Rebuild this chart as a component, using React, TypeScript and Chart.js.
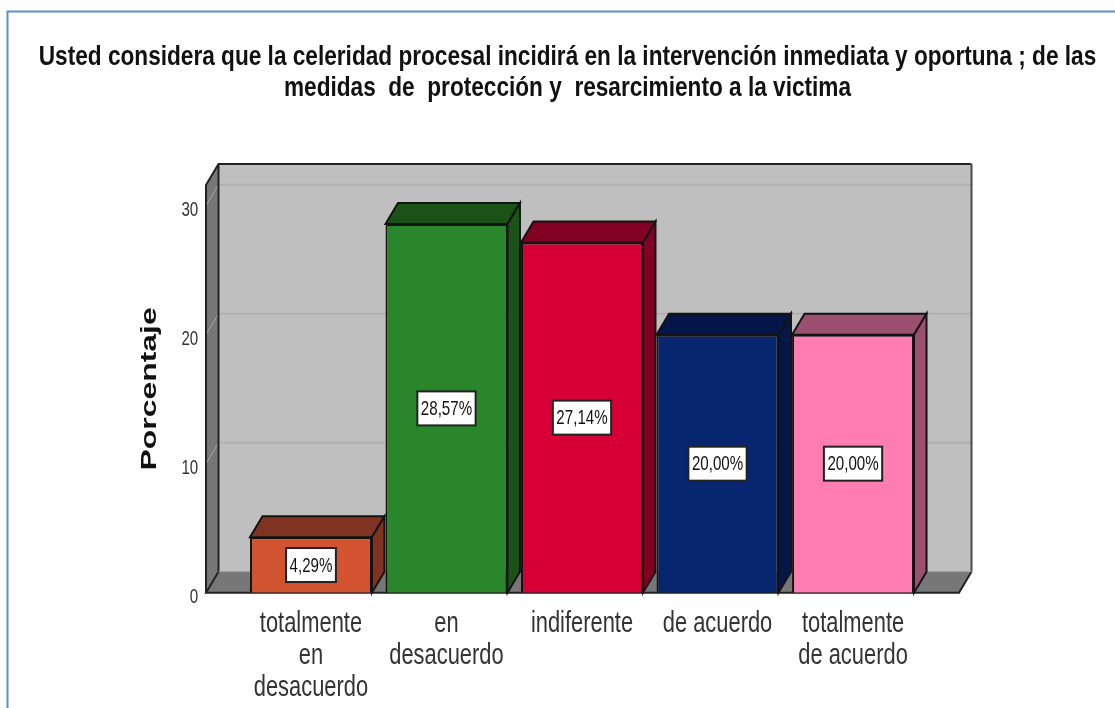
import React, { useEffect, useRef } from "react";
import { Chart, registerables } from "chart.js";

Chart.register(...registerables);

const categories = [
  ["totalmente", "en", "desacuerdo"],
  ["en", "desacuerdo"],
  "indiferente",
  "de acuerdo",
  ["totalmente", "de acuerdo"],
];
const percentages = [4.29, 28.57, 27.14, 20.0, 20.0];
const valueLabels = ["4,29%", "28,57%", "27,14%", "20,00%", "20,00%"];
const frontColors = ["#D1532F", "#29862B", "#D60036", "#082570", "#FF7DB0"];
const shadeColors = ["#7F3320", "#1A5218", "#820021", "#05174A", "#9B5070"];
const titleLines = [
  "Usted considera que la celeridad procesal incidirá en la intervención inmediata y oportuna ; de las",
  "medidas  de  protección y  resarcimiento a la victima",
];
const yTitle = "Porcentaje";
const yTicksMax = 31.6;

const SANS = '"Liberation Sans", sans-serif';
const DX = 12.5;
const DY = 21;
const WALL_OUT_LEFT = 37.2;
const WALL_OUT_RIGHT = 38.2;
// horizontal squeeze or stretch of the source picture's text, by font pixel size
const STRETCH: Record<string, number> = { "27": 0.838, "29": 0.755, "21": 0.72, "22": 1.45 };

function installStretch(ctx: any) {
  if (ctx.__stretched) return;
  ctx.__stretched = true;
  const orig = ctx.fillText.bind(ctx);
  ctx.fillText = (text: string, x: number, y: number) => {
    const m = /(\d+(?:\.\d+)?)px/.exec(ctx.font);
    const sx = (m && STRETCH[m[1]]) || 1;
    ctx.save();
    ctx.translate(x, y);
    ctx.scale(sx, 1);
    orig(text, 0, 0);
    ctx.restore();
  };
}

function poly(ctx: CanvasRenderingContext2D, pts: number[][], fill: string, stroke: string, lw = 2) {
  ctx.beginPath();
  pts.forEach((p, i) => (i ? ctx.lineTo(p[0], p[1]) : ctx.moveTo(p[0], p[1])));
  ctx.closePath();
  ctx.fillStyle = fill;
  ctx.fill();
  if (stroke) {
    ctx.strokeStyle = stroke;
    ctx.lineWidth = lw;
    ctx.stroke();
  }
}

const scene3d = {
  id: "scene3d",
  beforeDraw(chart: any) {
    const { ctx, chartArea: a, scales } = chart;
    installStretch(ctx);
    const y = scales.y;
    const l = a.left - WALL_OUT_LEFT;
    const r = a.right + WALL_OUT_RIGHT;
    const t = a.top;
    const b = a.bottom;
    ctx.save();
    // page frame
    ctx.strokeStyle = "#5F8FCB";
    ctx.lineWidth = 2;
    ctx.beginPath();
    ctx.moveTo(7.5, 708);
    ctx.lineTo(7.5, 11.5);
    ctx.lineTo(1115, 11.5);
    ctx.stroke();
    // back wall
    poly(ctx, [[l + DX, t - DY], [r + DX, t - DY], [r + DX, b - DY], [l + DX, b - DY]], "#BFBFBF", "");
    // back gridlines
    [10, 20, 30].forEach((v) => {
      const py = y.getPixelForValue(v) - DY;
      ctx.strokeStyle = "#B0B0B0";
      ctx.lineWidth = 2;
      ctx.beginPath();
      ctx.moveTo(l + DX, py);
      ctx.lineTo(r + DX, py);
      ctx.stroke();
    });
    // left wall and floor
    poly(ctx, [[l, t], [l + DX, t - DY], [l + DX, b - DY], [l, b]], "#777777", "");
    poly(ctx, [[l, b], [r, b], [r + DX, b - DY], [l + DX, b - DY]], "#777777", "");
    // side wall grid diagonals
    [10, 20, 30].forEach((v) => {
      const py = y.getPixelForValue(v);
      ctx.strokeStyle = "#A8A8A8";
      ctx.lineWidth = 1;
      ctx.beginPath();
      ctx.moveTo(l, py);
      ctx.lineTo(l + DX, py - DY);
      ctx.stroke();
    });
    // outlines
    ctx.strokeStyle = "#222222";
    ctx.lineWidth = 2;
    ctx.beginPath();
    ctx.moveTo(l, b);
    ctx.lineTo(l, t);
    ctx.lineTo(l + DX, t - DY);
    ctx.lineTo(r + DX, t - DY);
    ctx.moveTo(l + DX, t - DY);
    ctx.lineTo(l + DX, b - DY);
    ctx.lineTo(l, b);
    ctx.lineTo(r, b);
    ctx.lineTo(r + DX, b - DY);
    ctx.stroke();
    ctx.strokeStyle = "#4A4A4A";
    ctx.beginPath();
    ctx.moveTo(r + DX, t - DY);
    ctx.lineTo(r + DX, b - DY);
    ctx.stroke();
    ctx.strokeStyle = "#9A9A9A";
    ctx.lineWidth = 1;
    ctx.beginPath();
    ctx.moveTo(l + DX, b - DY);
    ctx.lineTo(r + DX, b - DY);
    ctx.stroke();
    ctx.restore();
  },
  beforeDatasetsDraw(chart: any) {
    const { ctx } = chart;
    const bars = chart.getDatasetMeta(0).data;
    ctx.save();
    bars.forEach((bar: any, i: number) => {
      const half = bar.width / 2;
      const x0 = bar.x - half;
      const x1 = bar.x + half;
      const top = bar.y;
      const base = bar.base;
      poly(ctx, [[x0, top], [x1, top], [x1 + DX, top - DY], [x0 + DX, top - DY]], shadeColors[i], "#141414");
      poly(ctx, [[x1, top], [x1 + DX, top - DY], [x1 + DX, base - DY], [x1, base]], shadeColors[i], "#141414");
    });
    ctx.restore();
  },
  afterDatasetsDraw(chart: any) {
    const { ctx } = chart;
    const bars = chart.getDatasetMeta(0).data;
    ctx.save();
    ctx.font = `21px ${SANS}`;
    ctx.textAlign = "center";
    ctx.textBaseline = "middle";
    bars.forEach((bar: any, i: number) => {
      const text = valueLabels[i];
      const w = ctx.measureText(text).width * STRETCH["21"] + 7;
      const h = 34;
      const cy = (bar.y + bar.base) / 2;
      ctx.fillStyle = "#FFFFFF";
      ctx.strokeStyle = "#222222";
      ctx.lineWidth = 2;
      ctx.fillRect(bar.x - w / 2, cy - h / 2, w, h);
      ctx.strokeRect(bar.x - w / 2, cy - h / 2, w, h);
      ctx.fillStyle = "#111111";
      ctx.fillText(text, bar.x, cy + 1);
    });
    ctx.restore();
  },
};

export default function App() {
  const ref = useRef<HTMLCanvasElement>(null);
  useEffect(() => {
    const chart = new Chart(ref.current as HTMLCanvasElement, {
      type: "bar",
      data: {
        labels: categories as any,
        datasets: [
          {
            data: percentages,
            backgroundColor: frontColors,
            borderColor: "#141414",
            borderWidth: 2,
            barPercentage: 0.9,
            categoryPercentage: 1,
          },
        ],
      },
      plugins: [scene3d],
      options: {
        responsive: false,
        animation: false,
        layout: { padding: { left: 20, right: 0, top: 0, bottom: 0 } },
        plugins: {
          legend: { display: false },
          tooltip: { enabled: false },
          title: {
            display: true,
            text: titleLines,
            color: "#111111",
            font: { family: SANS, size: 27, weight: "bold", lineHeight: "31px" },
            padding: { top: 42, bottom: 81 },
          },
        },
        scales: {
          x: {
            type: "category",
            grid: { display: false, drawTicks: false },
            border: { display: false },
            ticks: {
              color: "#333333",
              font: { family: SANS, size: 29, lineHeight: "32px" },
              padding: 15,
              maxRotation: 0,
              minRotation: 0,
              autoSkip: false,
            },
            afterFit(s: any) {
              s.height = 115.3;
            },
          },
          y: {
            min: 0,
            max: yTicksMax,
            grid: { display: false, drawTicks: false },
            border: { display: false },
            title: {
              display: true,
              text: yTitle,
              color: "#111111",
              font: { family: SANS, size: 22, weight: "bold", lineHeight: "22px" },
              padding: { top: 119, bottom: 0 },
            },
            ticks: {
              stepSize: 10,
              includeBounds: false,
              color: "#333333",
              font: { family: SANS, size: 21 },
              padding: 45,
              labelOffset: 5,
            },
            afterFit(s: any) {
              s.width = 223.2;
            },
          },
          gutter: {
            position: "right",
            display: true,
            grid: { display: false },
            border: { display: false },
            ticks: { display: false },
            afterFit(s: any) {
              s.width = 194.2;
            },
          },
        },
      } as any,
    });
    return () => chart.destroy();
  }, []);
  return (
    <canvas
      ref={ref}
      width={1115}
      height={708}
      style={{ position: "fixed", left: 0, top: 0, display: "block" }}
    />
  );
}
